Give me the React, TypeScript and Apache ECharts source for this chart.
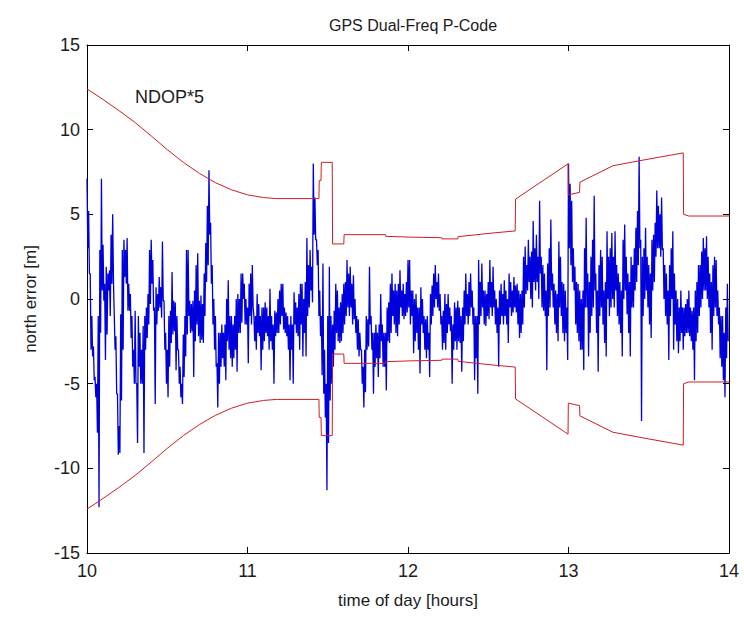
import React, { useEffect, useRef } from "react";
import * as echarts from "echarts";

// North error samples: one local high and one local low per 0.01 h, starting at 10.00 h
const startHour = 10;
const stepHour = 0.01;

const errHigh = [
  7.1, 5.2, 1.5, -1.0, -2.8, -4.6, -5.0, -1.0, 2.9, 7.1,
  3.2, 0.9, 1.9, 1.5, 1.7, 3.8, 5.0, -1.0, -2.2, -5.6,
  -7.5, -0.9, 2.9, 3.5, 2.9, 3.6, 0.9, 0.3, -1.0, -3.0,
  -0.7, -5.0, -1.0, -2.0, -3.0, -1.6, -1.0, -0.5, 0.3, 2.9,
  3.5, 2.3, -0.5, 0.7, 0.3, 1.3, 0.7, 3.4, -0.1, -2.0,
  -3.0, -1.0, -0.7, 1.6, -0.1, -0.2, -1.0, -3.0, -4.0, -5.0,
  -2.1, -1.0, 2.9, 2.9, -0.1, -0.3, -0.1, 0.5, 2.0, 2.7,
  -0.1, 0.2, -0.3, 1.5, 3.3, 5.5, 7.6, 4.5, 2.0, 0.0,
  -1.0, -3.8, -2.0, -2.0, -1.5, -2.0, -1.5, 0.0, 1.1, -1.0,
  -1.0, -1.5, -1.0, 0.0, 0.3, 0.0, 1.5, 1.5, 0.9, 0.0,
  -0.5, 0.9, 1.5, 2.0, -1.0, -1.0, 0.3, -0.3, -1.0, -0.5,
  -0.5, -0.2, -0.5, -1.0, 0.6, -1.0, -1.5, -0.7, -0.8, 0.0,
  0.5, 0.9, 0.9, -0.5, -0.8, -1.0, -1.5, -1.0, -1.5, 0.4,
  -0.2, -0.5, 0.3, 0.9, 0.9, 0.0, 1.0, 3.6, 2.0, 2.9,
  1.9, 8.0, 6.0, 3.5, 2.9, 0.5, -1.0, 2.1, -3.0, -5.0,
  -1.0, 1.9, -1.0, -1.5, -0.7, 0.9, 0.5, -0.5, -0.2, 0.3,
  0.9, 1.0, 2.3, 1.5, 1.9, 0.9, 1.4, 0.0, -1.0, -1.2,
  -2.0, -3.0, -4.0, -3.0, -1.0, -1.2, 1.9, -1.0, -2.0, -2.0,
  -1.5, -2.0, -1.5, 0.3, -1.5, -2.0, -2.0, -0.5, -0.2, 0.9,
  1.5, 0.5, 0.9, 0.5, 0.9, 1.7, 0.5, 0.9, 0.3, 1.0,
  2.3, 2.3, 0.5, 0.5, 0.0, 0.3, -0.5, -0.5, 0.7, 0.0,
  -1.0, -1.2, -1.0, -2.0, 0.3, 0.8, 1.5, 2.0, 1.0, 1.5,
  0.3, -1.0, -0.7, 0.3, -0.3, 0.3, -0.5, -1.0, -1.5, -0.2,
  -0.5, -0.1, -0.5, -1.0, -0.5, 0.5, 1.5, 0.3, 1.0, 1.5,
  0.5, -0.5, -1.0, -1.0, 2.3, 1.0, 2.1, 0.5, 0.5, 0.3,
  1.0, 2.3, 1.0, 1.9, 0.5, 0.0, -0.5, 0.5, 0.9, 0.3,
  1.1, 0.5, 0.0, 1.5, 1.0, 0.5, 1.3, 0.8, 0.9, 0.5,
  0.3, 0.5, 2.5, 3.1, 2.0, 3.5, 2.5, 2.8, 4.6, 3.0,
  3.8, 2.5, 5.8, 2.5, 2.0, 1.5, 0.5, 2.1, 3.0, 4.7,
  1.5, 0.9, 0.5, 0.3, 3.4, 2.5, 1.0, 0.9, 0.5, -0.5,
  8.0, 6.8, 5.8, 3.0, 1.9, 1.0, 0.9, 0.5, 0.0, 0.5,
  3.0, 4.8, 1.5, 1.0, 2.5, 3.5, 6.1, 1.5, 0.5, 2.0,
  2.9, 2.5, 0.5, 1.0, 4.0, 2.5, 3.0, 3.9, 2.5, 4.0,
  2.0, 1.5, 1.0, 0.5, 3.5, 4.4, 2.5, 1.5, 1.0, 2.5,
  2.0, 3.0, 4.2, 5.2, 8.4, 3.5, 2.5, 3.0, 4.2, 2.5,
  2.0, 1.5, 3.5, 3.8, 4.5, 6.4, 5.5, 5.0, 6.0, 3.0,
  2.0, 1.5, 0.5, 2.0, 3.0, 4.0, 1.5, 0.5, 0.0, -0.5,
  0.5, -0.5, -0.5, -0.3, 0.0, 0.5, -0.5, -0.7, -0.5, 0.5,
  1.0, 2.0, 2.0, 2.8, 3.6, 3.0, 3.7, 2.5, 1.5, 1.0,
  2.0, 2.5, 2.3, 0.5, -0.5, -1.0, -1.0, -2.0, -0.5, 0.9,
];

const errLow = [
  3.0, 1.5, -3.0, -3.4, -4.8, -5.8, -7.9, -12.3, -2.0, 0.5,
  -0.1, -3.6, -2.1, 0.5, -1.0, 0.9, 1.0, -3.0, -5.6, -9.2,
  -9.1, -6.0, -3.0, 1.3, 0.9, -0.7, -0.7, -2.3, -4.0, -5.0,
  -5.0, -8.5, -4.0, -5.0, -5.0, -9.1, -3.0, -2.3, -1.5, -0.3,
  0.9, -0.7, -6.2, -1.5, -0.7, -0.5, -1.1, -0.1, -3.0, -5.0,
  -5.8, -4.0, -2.6, -2.1, -1.9, -4.2, -3.0, -5.0, -5.8, -6.2,
  -4.6, -3.4, -2.1, -1.0, -2.0, -1.9, -4.6, -2.5, -1.5, -2.2,
  -2.6, -2.4, -2.6, -1.0, 1.0, 2.0, 3.8, 0.9, -1.5, -3.0,
  -4.0, -6.4, -5.0, -4.0, -3.5, -4.0, -4.8, -2.5, -3.0, -3.5,
  -4.0, -3.5, -3.0, -4.3, -2.0, -2.0, -1.4, 0.0, -1.5, -1.5,
  -3.8, -1.0, -1.5, -0.5, -2.5, -3.0, -2.0, -2.2, -4.2, -3.0,
  -2.5, -2.0, -2.2, -3.0, -2.5, -3.0, -5.0, -2.2, -2.0, -2.0,
  -1.5, -1.0, -1.8, -2.0, -2.2, -3.0, -4.8, -3.0, -5.0, -1.5,
  -2.0, -2.2, -3.0, -1.5, -3.4, -2.0, -3.4, -1.0, -0.5, 0.5,
  -0.2, 3.8, 3.5, 2.0, -1.0, -2.2, -4.5, -5.6, -7.0, -11.3,
  -8.5, -6.0, -5.0, -4.0, -3.0, -2.0, -2.5, -2.6, -2.5, -2.0,
  -1.5, -1.0, -0.5, -1.0, -0.5, -1.5, -1.2, -2.0, -3.0, -3.4,
  -3.0, -5.0, -6.4, -5.5, -3.0, -2.8, -1.5, -3.0, -5.6, -4.0,
  -3.5, -4.6, -3.5, -2.5, -4.0, -4.0, -5.4, -2.5, -2.6, -2.0,
  -1.0, -1.5, -2.0, -2.2, -1.5, -0.5, -1.0, -1.2, -1.0, -0.8,
  -0.5, -1.5, -1.0, -3.2, -2.5, -2.0, -3.0, -4.4, -1.5, -2.0,
  -3.0, -3.5, -3.0, -4.6, -1.5, -1.0, -0.5, 0.0, -0.5, -0.7,
  -1.5, -3.0, -2.6, -3.0, -2.0, -1.5, -1.9, -5.0, -3.0, -2.5,
  -3.0, -2.5, -2.6, -4.3, -2.5, -1.5, -1.0, -1.5, -1.0, -0.5,
  -1.5, -4.8, -3.5, -5.6, -1.5, -1.0, -0.5, -1.5, -1.6, -1.0,
  -1.2, -0.5, -1.0, -0.5, -1.5, -2.0, -4.0, -1.5, -1.0, -1.5,
  -1.0, -1.5, -2.6, -0.5, -1.0, -0.8, -0.5, -0.8, -1.5, -2.3,
  -2.0, -1.5, -0.5, 0.3, 0.5, 1.0, 0.0, -0.5, 1.0, 0.5,
  1.0, 0.0, 1.5, -0.5, -0.7, -1.0, -4.2, -1.0, -0.5, 0.5,
  -0.5, -1.5, -2.0, -2.5, -0.5, -1.0, -2.0, -2.5, -2.0, -3.6,
  3.0, 2.0, 1.0, 0.5, -1.5, -2.0, -2.5, -3.0, -3.0, -4.2,
  -0.5, -0.5, -3.4, -2.0, -1.0, -0.5, 0.5, -2.0, -4.3, -1.0,
  -0.5, -1.5, -2.6, -3.4, 0.0, -1.0, -0.5, 0.0, -0.5, 0.5,
  -1.0, -1.5, -2.0, -3.4, 0.0, 0.5, -0.9, -2.0, -3.4, -0.5,
  -0.5, 0.5, 1.0, 2.0, 3.0, -7.2, -1.0, 0.0, 0.5, -0.5,
  -1.5, -2.3, 0.5, 1.0, 2.5, 3.0, 3.0, 2.5, 2.9, 0.0,
  -1.0, -1.5, -3.6, -1.0, 0.0, -3.0, -1.5, -2.5, -3.2, -2.5,
  -2.0, -3.0, -2.2, -2.0, -2.0, -2.2, -2.5, -3.0, -4.8, -2.5,
  -2.0, -1.0, -0.5, 0.0, 0.5, 0.5, 0.0, -0.5, -2.0, -3.0,
  -1.0, -0.5, -1.0, -1.5, -3.5, -4.0, -4.8, -5.8, -3.5, -2.5,
];

// NDOP*5 envelope (upper branch; lower branch is its negative)
const ndopTimes = [
  10.0, 10.05, 10.1, 10.15, 10.2, 10.3, 10.4, 10.5, 10.6, 10.7, 10.8, 10.9, 11.0, 11.1, 11.18,
  11.445, 11.447, 11.458, 11.46, 11.528, 11.53, 11.6, 11.602, 11.86, 11.862,
  12.03, 12.21, 12.212, 12.31, 12.312, 12.53, 12.668, 12.67, 12.997, 12.999,
  13.069, 13.071, 13.277, 13.44, 13.715, 13.717, 13.75, 14.0,
];
const ndop5 = [
  12.4, 12.1, 11.78, 11.45, 11.12, 10.42, 9.63, 8.82, 8.07, 7.42, 6.87, 6.45, 6.15, 5.99, 5.93,
  5.93, 7.0, 7.0, 8.07, 8.07, 3.25, 3.25, 3.8, 3.8, 3.7,
  3.65, 3.62, 3.55, 3.55, 3.68, 3.9, 4.02, 5.9, 7.98, 6.15,
  6.3, 6.9, 7.87, 8.16, 8.63, 5.0, 4.9, 4.9,
];

const xMin = 10, xMax = 14, xStep = 1;
const yMin = -15, yMax = 15, yStep = 5;

const FONT = "'Liberation Sans', Arial, Helvetica, sans-serif";
const TXT = "#1c1c1c";

export default function App() {
  const ref = useRef<HTMLDivElement>(null);

  useEffect(() => {
    if (!ref.current) return;
    const chart = echarts.init(ref.current, undefined, { renderer: "svg" });

    const blue: number[][] = [];
    errHigh.forEach((h, i) => {
      const t = startHour + i * stepHour;
      blue.push([t, h]);
      blue.push([t + stepHour / 2, errLow[i]]);
    });
    const upper = ndopTimes.map((t, i) => [t, ndop5[i]]);
    const lower = ndopTimes.map((t, i) => [t, -ndop5[i]]);

    const axisLine = { show: true, onZero: false, lineStyle: { color: "#000", width: 1 } };
    const tick = { show: true, inside: true, length: 6, lineStyle: { color: "#000", width: 1 } };

    chart.setOption({
      animation: false,
      backgroundColor: "#ffffff",
      textStyle: { fontFamily: FONT },
      title: {
        text: "GPS Dual-Freq P-Code",
        left: 408,
        top: 12,
        textAlign: "center",
        textStyle: { fontFamily: FONT, fontSize: 16, fontWeight: "normal", color: TXT },
      },
      grid: { left: 87, right: 15, top: 45, bottom: 66, containLabel: false },
      xAxis: [
        {
          type: "value", position: "bottom", min: xMin, max: xMax, interval: xStep,
          axisLine, axisTick: tick, splitLine: { show: false },
          axisLabel: { color: TXT, fontSize: 18, fontFamily: FONT, margin: 9 },
          name: "time of day [hours]", nameLocation: "middle", nameGap: 39,
          nameTextStyle: { color: TXT, fontSize: 17, fontFamily: FONT },
        },
        {
          type: "value", position: "top", min: xMin, max: xMax, interval: xStep,
          axisLine, axisTick: tick, splitLine: { show: false }, axisLabel: { show: false },
        },
      ],
      yAxis: [
        {
          type: "value", position: "left", min: yMin, max: yMax, interval: yStep,
          axisLine, axisTick: tick, splitLine: { show: false },
          axisLabel: { color: TXT, fontSize: 18, fontFamily: FONT, margin: 7 },
          name: "north error [m]", nameLocation: "middle", nameGap: 48,
          nameTextStyle: { color: TXT, fontSize: 17, fontFamily: FONT },
        },
        {
          type: "value", position: "right", min: yMin, max: yMax, interval: yStep,
          axisLine, axisTick: tick, splitLine: { show: false }, axisLabel: { show: false },
        },
      ],
      graphic: [
        {
          type: "text", left: 135, top: 88,
          style: { text: "NDOP*5", fill: TXT, font: `18px ${FONT}` },
        },
      ],
      series: [
        {
          name: "north error", type: "line", data: blue, showSymbol: false,
          lineStyle: { color: "#0000dc", width: 1.3 }, xAxisIndex: 0, yAxisIndex: 0,
          clip: true,
        },
        {
          name: "NDOP*5 upper", type: "line", data: upper, showSymbol: false,
          lineStyle: { color: "#cc1f1f", width: 1 }, xAxisIndex: 0, yAxisIndex: 0,
        },
        {
          name: "NDOP*5 lower", type: "line", data: lower, showSymbol: false,
          lineStyle: { color: "#cc1f1f", width: 1 }, xAxisIndex: 0, yAxisIndex: 0,
        },
      ],
    });

    return () => chart.dispose();
  }, []);

  return (
    <div
      ref={ref}
      style={{ position: "fixed", left: 0, top: 0, width: 744, height: 619, background: "#fff" }}
    />
  );
}
